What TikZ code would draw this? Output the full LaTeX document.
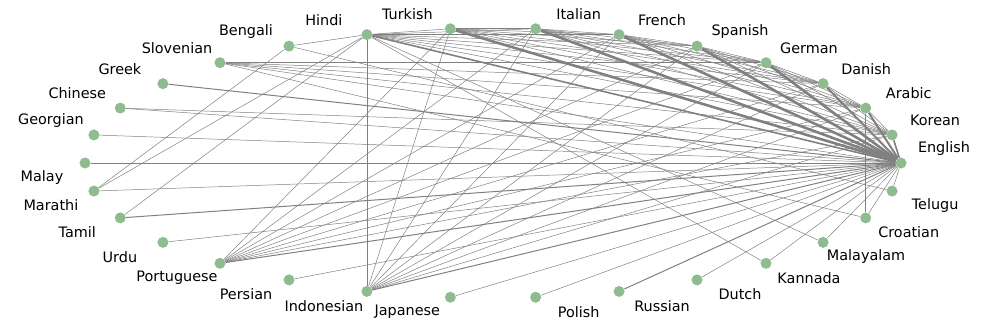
\documentclass[tikz,border=0pt]{standalone}
\usepackage{fontspec}
\setsansfont{DejaVu Sans}
\usetikzlibrary{backgrounds}
\definecolor{dotgreen}{RGB}{143,188,143}
\definecolor{edgegray}{RGB}{128,128,128}

\begin{document}
\begin{tikzpicture}[x=1pt,y=1pt,
  lang/.style={circle,fill=dotgreen,inner sep=0pt,minimum size=11pt},
  lbl/.style={font=\sffamily\fontsize{14.4}{17}\selectfont,inner sep=0pt},
  link/.style={draw=edgegray,line width=0.5pt},
  midlink/.style={draw=edgegray,line width=1pt},
  heavylink/.style={draw=edgegray,line width=#1},
  heavylink/.default=2.6pt]
  \useasboundingbox (-493,-164) rectangle (494,163);
  % languages round the ellipse, English first
  \foreach \name [count=\i from 0] in {English,Korean,Arabic,Danish,German,Spanish,French,Italian,Turkish,Hindi,Bengali,Slovenian,Greek,Chinese,Georgian,Malay,Marathi,Tamil,Urdu,Portuguese,Persian,Indonesian,Japanese,Polish,Russian,Dutch,Kannada,Malayalam,Croatian,Telugu}{
    \pgfmathsetmacro\a{12*\i}
    \pgfmathsetmacro\dx{cos(\a)>0 ? 43 : -43}
    \pgfmathsetmacro\dy{\a<180 ? 14.5 : -14.5}
    \node[lang] (\name) at (\a:408 and 135) {};
    \node[lbl] (\name-lbl) at ([shift={(\dx,\dy)}]\name) {\name};
  }
  \begin{pgfonlayer}{background}
    % dense block at the top
    \foreach \u/\v in {Hindi/Turkish,Hindi/Italian,Hindi/French,Hindi/Spanish,Hindi/German,Hindi/Danish,Hindi/Arabic,Hindi/Korean,
      Turkish/Italian,Turkish/French,Turkish/Spanish,Turkish/German,Turkish/Danish,Turkish/Arabic,Turkish/Korean,
      Italian/French,Italian/Spanish,Italian/German,Italian/Danish,Italian/Arabic,Italian/Korean,
      French/Spanish,French/German,French/Danish,French/Arabic,French/Korean,
      Spanish/German,Spanish/Danish,Spanish/Arabic,Spanish/Korean,
      German/Danish,German/Arabic,German/Korean,Danish/Arabic,Danish/Korean,Arabic/Korean}
      \draw[link] (\u) -- (\v);
    % the rest, thin
    \foreach \u/\v in {Bengali/Hindi,Bengali/Marathi,Bengali/Telugu,
      Hindi/Marathi,Hindi/Tamil,Hindi/Indonesian,Hindi/Kannada,Hindi/Malayalam,
      Slovenian/German,Slovenian/Danish,Slovenian/Arabic,Slovenian/Korean,Slovenian/English,Slovenian/Croatian,
      Chinese/Korean,Chinese/English,Georgian/English,Malay/English,Marathi/English,Urdu/English,
      Portuguese/Turkish,Portuguese/Italian,Portuguese/French,Portuguese/Spanish,Portuguese/German,
      Portuguese/Danish,Portuguese/Arabic,Portuguese/Korean,
      Indonesian/Turkish,Indonesian/Italian,Indonesian/French,Indonesian/Spanish,Indonesian/German,
      Indonesian/Danish,Indonesian/Arabic,Indonesian/Korean,
      Persian/English,Japanese/English,Polish/English,Dutch/English,Kannada/English,
      Malayalam/English,Croatian/Arabic,Croatian/English,Telugu/English}
      \draw[link] (\u) -- (\v);
    \foreach \u in {Portuguese,Indonesian,Russian,Greek,Tamil}
      \draw[midlink] (\u) -- (English);
    \foreach \u/\w in {Turkish/2.6pt,Italian/2.6pt,French/2.6pt,Spanish/2.6pt,German/2.6pt,
      Danish/2pt,Arabic/2pt,Hindi/1.6pt,Korean/1.6pt}
      \draw[heavylink=\w] (\u) -- (English);
  \end{pgfonlayer}
\end{tikzpicture}
\end{document}
